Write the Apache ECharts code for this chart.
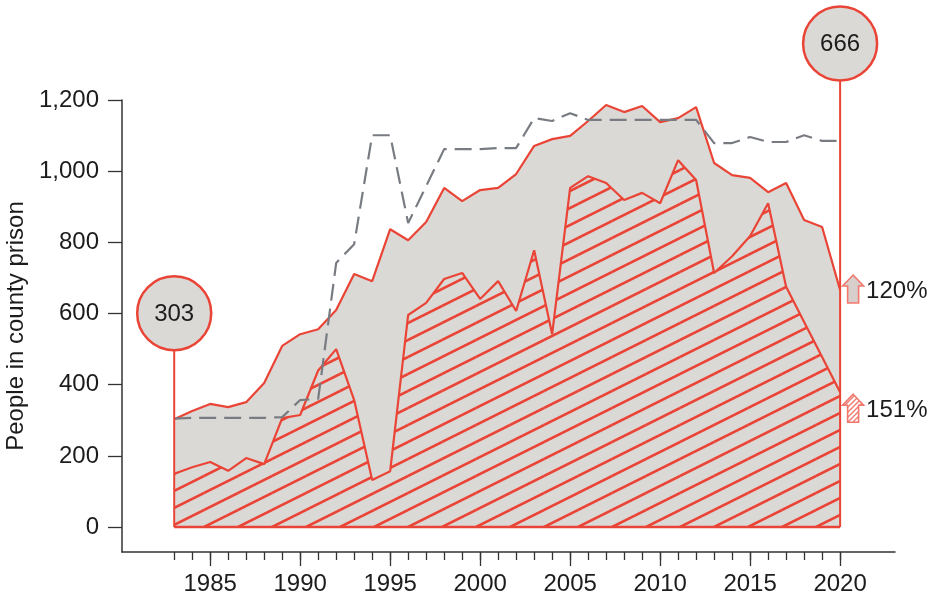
<!DOCTYPE html>
<html><head><meta charset="utf-8">
<script src="https://cdn.jsdelivr.net/npm/echarts@6/dist/echarts.min.js"></script>
<style>html,body{margin:0;padding:0;background:#fff}#c{width:929px;height:600px}</style>
</head><body><div id="c"></div>
<script>
const years = [1983,1984,1985,1986,1987,1988,1989,1990,1991,1992,1993,1994,1995,1996,1997,1998,1999,2000,2001,2002,2003,2004,2005,2006,2007,2008,2009,2010,2011,2012,2013,2014,2015,2016,2017,2018,2019,2020];
const totalPop = [303,326,346,337,351,405,509,542,556,610,711,691,837,806,857,953,916,947,953,992,1071,1090,1099,1141,1186,1166,1183,1138,1149,1180,1023,989,981,941,967,863,843,666];
const hatchedPop = [150,168,183,158,194,177,306,315,440,500,357,132,157,596,630,697,714,641,691,607,778,542,953,986,967,919,939,910,1031,975,714,761,818,910,675,576,478,379];
const capacity = [305,307,307,307,307,307,309,357,360,742,795,1101,1101,854,958,1062,1062,1062,1065,1065,1149,1141,1163,1144,1144,1144,1144,1144,1144,1144,1079,1079,1096,1082,1082,1101,1085,1085];
const xLabelYears = [1985,1990,1995,2000,2005,2010,2015,2020];
const yTicks = [0,200,400,600,800,1000,1200];
const bubbleYears = [1983,2020];
const bubbleValues = [303,666];
const changeLabels = ['120%','151%'];
const changeValues = [666,379];

const RED = '#ea4436', GRAY = '#dbd9d6', DASH = '#787c82', INK = '#1c1c1c', AX = '#333333';
const FONT = '"Liberation Sans", Arial, sans-serif';

function hatch(bg, w, h, lw, color) {
  const c = document.createElement('canvas'); c.width = w; c.height = h;
  const g = c.getContext('2d');
  g.fillStyle = bg; g.fillRect(0, 0, w, h);
  g.strokeStyle = color; g.lineWidth = lw;
  for (const [dx, dy] of [[0,0],[w,0],[-w,0],[0,h],[0,-h]]) {
    g.beginPath(); g.moveTo(dx, h + dy); g.lineTo(w + dx, dy); g.stroke();
  }
  return c;
}
const hatchMain = hatch(GRAY, 34, 17, 2.6, RED);
const hatchArrow = hatch('#ffffff', 5, 5, 1.4, '#f07a70');

const pair = arr => years.map((y, i) => [y, arr[i]]);
const XMIN = 1980.1, XMAX = 2023.05;
const tickStyle = { color: AX, width: 1.3 };

const chart = echarts.init(document.getElementById('c'));
chart.setOption({
  animation: false,
  grid: { left: 122, right: 34, top: 100, bottom: 48, containLabel: false, outerBoundsMode: 'none' },
  xAxis: [
    { type: 'value', min: XMIN, max: XMAX, position: 'bottom',
      axisLine: { show: true, onZero: false, lineStyle: { color: AX, width: 1.5 } },
      axisTick: { show: true, length: 8, customValues: years, lineStyle: tickStyle },
      axisLabel: { show: false }, splitLine: { show: false } },
    { type: 'value', min: XMIN, max: XMAX, position: 'bottom',
      axisLine: { show: false, onZero: false },
      axisTick: { show: true, length: 14, customValues: xLabelYears, lineStyle: tickStyle },
      axisLabel: { show: true, customValues: xLabelYears, margin: 20, fontSize: 24, fontFamily: FONT, color: INK, formatter: v => String(v) },
      splitLine: { show: false } }
  ],
  yAxis: {
    type: 'value', min: -70, max: 1200,
    name: 'People in county prison', nameLocation: 'middle', nameGap: 87, nameRotate: 90,
    nameTextStyle: { fontSize: 24, fontFamily: FONT, color: INK },
    axisLine: { show: true, onZero: false, lineStyle: { color: AX, width: 1.5 } },
    axisTick: { show: true, length: 14, customValues: yTicks, lineStyle: tickStyle },
    axisLabel: { customValues: yTicks, margin: 23, fontSize: 24, fontFamily: FONT, color: INK, formatter: v => v.toLocaleString('en-US') },
    splitLine: { show: false }
  },
  series: [
    { type: 'line', data: pair(totalPop), symbol: 'none', z: 2,
      lineStyle: { color: RED, width: 2.2 }, areaStyle: { color: GRAY, opacity: 1 } },
    { type: 'line', data: pair(hatchedPop), symbol: 'none', z: 3,
      lineStyle: { color: RED, width: 2.2 }, areaStyle: { color: { image: hatchMain, repeat: 'repeat' }, opacity: 1 } },
    { type: 'line', data: [[years[0], 0], [years[years.length - 1], 0]], symbol: 'none', z: 4,
      lineStyle: { color: RED, width: 2.5 } },
    { type: 'line', data: pair(capacity), symbol: 'none', z: 5,
      lineStyle: { color: DASH, width: 2.2, type: [17, 8] } },
    { type: 'custom', z: 6, clip: false,
      data: bubbleYears.map((y, i) => [y, bubbleValues[i], i]),
      renderItem: (params, api) => {
        const i = api.value(2);
        const base = api.coord([api.value(0), 0]);
        const pt = api.coord([api.value(0), api.value(1)]);
        const lift = [106, 246.5][i];
        const cy = pt[1] - lift;
        return { type: 'group', children: [
          { type: 'line', shape: { x1: base[0], y1: base[1], x2: pt[0], y2: cy }, style: { stroke: RED, lineWidth: 2 } },
          { type: 'circle', shape: { cx: pt[0], cy: cy, r: 37 }, style: { fill: GRAY, stroke: RED, lineWidth: 2.5 } },
          { type: 'text', style: { text: String(bubbleValues[i]), x: pt[0], y: cy + 1, align: 'center', verticalAlign: 'middle', fontSize: 24, fontFamily: FONT, fill: INK } }
        ] };
      } },
    { type: 'custom', z: 7, clip: false,
      data: changeValues.map((v, i) => [years[years.length - 1], v, i]),
      renderItem: (params, api) => {
        const i = api.value(2);
        const pt = api.coord([api.value(0), api.value(1)]);
        const cx = pt[0] + 13, cy = pt[1] + [-1, 16][i];
        const pts = [[0,-14],[10.5,-3],[5.5,-3],[5.5,14],[-5.5,14],[-5.5,-3],[-10.5,-3]].map(p => [cx + p[0], cy + p[1]]);
        return { type: 'group', children: [
          { type: 'polygon', shape: { points: pts },
            style: { fill: i === 0 ? '#d8cfcc' : { image: hatchArrow, repeat: 'repeat' }, stroke: '#f2786d', lineWidth: 1.6 } },
          { type: 'text', style: { text: changeLabels[i], x: cx + 13, y: cy + 2, align: 'left', verticalAlign: 'middle', fontSize: 24, fontFamily: FONT, fill: INK } }
        ] };
      } }
  ]
});
</script></body></html>
